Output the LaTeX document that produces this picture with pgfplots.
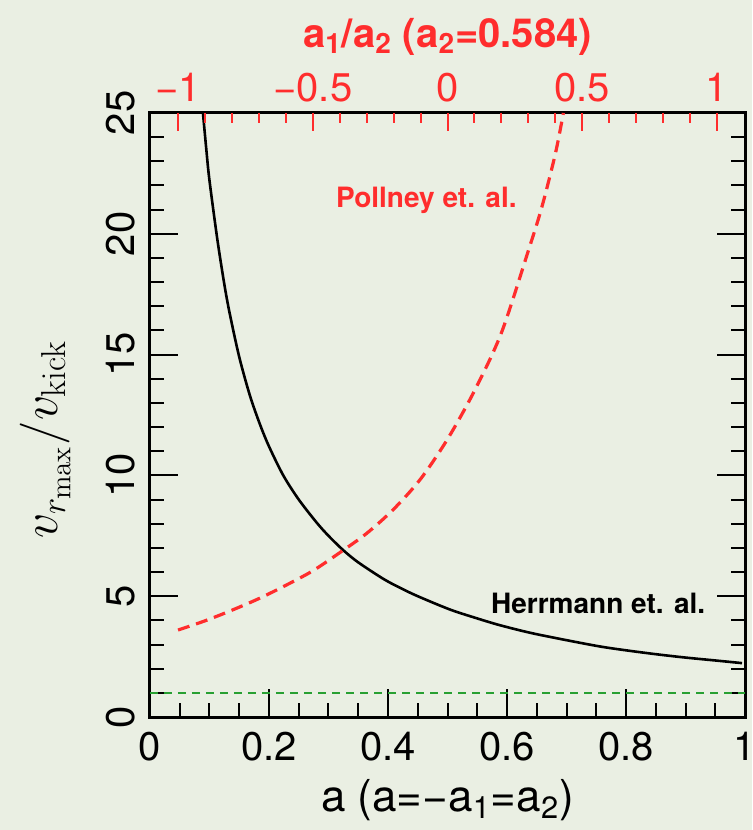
\documentclass[border=0pt]{standalone}
\usepackage[no-math]{fontspec}
\setmainfont{TeX Gyre Heros}
\usepackage{pgfplots}
\pgfplotsset{compat=1.18}
\definecolor{pred}{RGB}{255,45,45}
\definecolor{pgreen}{RGB}{40,160,50}
\definecolor{bg}{RGB}{234,239,227}
\begin{document}
\begin{tikzpicture}
\fill[bg] (-75pt,-56.5pt) rectangle (301pt,358.5pt);
\begin{axis}[
  at={(0,0)}, anchor=south west,
  scale only axis, width=297.5pt, height=302pt,
  xmin=0, xmax=1, ymin=0, ymax=25,
  axis line style={line width=1.5pt},
  tick align=inside,
  xtick={0,0.2,0.4,0.6,0.8,1}, minor x tick num=3,
  ytick={0,5,10,15,20,25}, minor y tick num=4,
  xtick pos=left, ytick pos=both,
  major tick length=14pt, minor tick length=7pt,
  every tick/.style={black, line width=1pt},
  /pgf/number format/assume math mode=true,
  xticklabel style={font=\fontsize{20}{24}\selectfont},
  yticklabel style={font=\fontsize{20}{24}\selectfont, rotate=90, anchor=south},
  xticklabel shift=4pt, yticklabel shift=4pt,
  xlabel={a (a=−a\textsubscript{1}=a\textsubscript{2})},
  xlabel style={font=\fontsize{22}{26}\selectfont, at={(axis description cs:0.5,-0.137)}, anchor=center},
  ylabel={$v_{r_{\rm max}}/v_{\rm kick}$},
  ylabel style={font=\fontsize{27}{31}\selectfont, at={(axis description cs:-0.176,0.459)}, anchor=center},
]
\addplot[pgreen, line width=1pt, dash pattern=on 4pt off 3pt] coordinates {(0,1) (1,1)};
\addplot[black, line width=1.3pt, smooth] coordinates {
(0.089,25) (0.095,23.4) (0.100,22.2) (0.113,19.8) (0.125,17.9) (0.134,16.7)
(0.150,14.9) (0.168,13.3) (0.185,12.1) (0.200,11.2) (0.224,10.0) (0.250,9.0)
(0.280,8.05) (0.300,7.5) (0.325,6.9) (0.350,6.4) (0.392,5.72) (0.420,5.35)
(0.450,5.0) (0.504,4.45) (0.550,4.08) (0.588,3.8) (0.640,3.48) (0.700,3.18)
(0.756,2.92) (0.800,2.76) (0.850,2.6) (0.900,2.46) (0.950,2.34) (0.995,2.23)
};
\node[anchor=east, font=\fontsize{14}{16}\selectfont\bfseries] at (axis cs:0.945,4.7) {Herrmann et. al.};
\node[anchor=east, font=\fontsize{14}{16}\selectfont\bfseries, text=pred] at (axis cs:0.628,21.4) {Pollney et. al.};
\end{axis}
\begin{axis}[
  at={(0,0)}, anchor=south west,
  scale only axis, width=297.5pt, height=302pt,
  xmin=-1.104, xmax=1.104, ymin=0, ymax=25,
  hide y axis,
  axis x line*=top,
  x axis line style={draw=none},
  tick align=inside,
  xtick={-1,-0.5,0,0.5,1}, xticklabels={−1,−0.5,0,0.5,1}, minor x tick num=4,
  major tick length=9pt, minor tick length=5pt,
  every tick/.style={pred, line width=1pt},
  xticklabel style={font=\fontsize{20}{24}\selectfont, text=pred},
  xticklabel shift=2pt,
  xlabel={a\textsubscript{1}/a\textsubscript{2} (a\textsubscript{2}=0.584)},
  xlabel style={font=\fontsize{20}{24}\selectfont\bfseries, text=pred, at={(axis description cs:0.5,1.126)}, anchor=center},
]
\addplot[pred, line width=1.6pt, dash pattern=on 6pt off 3.5pt, smooth] coordinates {
(-1,3.6) (-0.9,3.98) (-0.8,4.42) (-0.7,4.9) (-0.6,5.45) (-0.5,6.05) (-0.4,6.8)
(-0.3,7.6) (-0.2,8.6) (-0.1,9.85) (0,11.5) (0.1,13.5) (0.2,15.9) (0.3,19.3)
(0.35,21.1) (0.4,23.3) (0.43,25)
};
\end{axis}
\pgfresetboundingbox
\path[use as bounding box] (-75pt,-56.5pt) rectangle (301pt,358.5pt);
\end{tikzpicture}
\end{document}
